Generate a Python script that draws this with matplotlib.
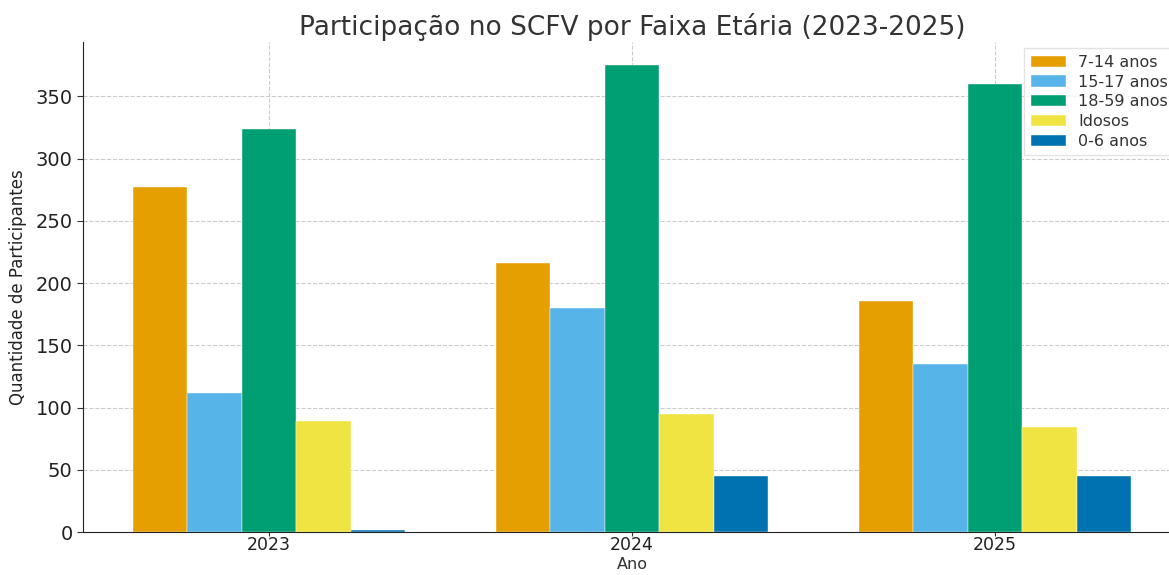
import numpy as np
import matplotlib
matplotlib.use("Agg")
import matplotlib.pyplot as plt

# data
anos = ["2023", "2024", "2025"]
faixas = ["7-14 anos", "15-17 anos", "18-59 anos", "Idosos", "0-6 anos"]
v_7_14 = [277, 216, 186]
v_15_17 = [112, 180, 135]
v_18_59 = [324, 375, 360]
v_idosos = [89, 95, 84]
v_0_6 = [2, 45, 45]
cores = ["#E69F00", "#56B4E9", "#009E73", "#F0E442", "#0072B2"]

series = [v_7_14, v_15_17, v_18_59, v_idosos, v_0_6]

plt.rcParams['font.family'] = ['DejaVu Sans']
text_col = "#333333"

fig = plt.figure(figsize=(11.69, 5.75), dpi=100)
# axes extends a little past the right edge of the canvas (as in the reference)
ax = fig.add_axes([83 / 1169, 43 / 575, 1098 / 1169, 490 / 575])

x = np.arange(len(anos))
largura = 0.15
for i, (vals, nome, cor) in enumerate(zip(series, faixas, cores)):
    ax.bar(x + (i - 2) * largura, vals, largura, label=nome, color=cor,
           edgecolor="white", linewidth=0.3, zorder=2)

ax.set_xticks(x)
ax.set_xticklabels(anos)
ax.set_title("Participação no SCFV por Faixa Etária (2023-2025)",
             fontsize=19, color=text_col, pad=5)
ax.set_xlabel("Ano", fontsize=11.5, color=text_col)
# keep the x label inside the canvas, just under the tick labels
ax.xaxis.set_label_coords(0.5, -25 / 490)
ax.set_ylabel("Quantidade de Participantes", fontsize=12, color="#222222", labelpad=6)
ax.tick_params(axis="y", labelsize=14, colors=text_col, length=4)
ax.tick_params(axis="x", labelsize=12.5, colors=text_col, length=3, pad=0)
ax.tick_params(axis="both", labelcolor="#222222")

ax.grid(True, linestyle="--", color="#cccccc", linewidth=0.8, zorder=0)
ax.set_axisbelow(True)
ax.spines["top"].set_visible(False)
ax.spines["right"].set_visible(False)
ax.spines["left"].set_color("#222222")
ax.spines["bottom"].set_color("#222222")

leg = ax.legend(loc="upper right", fontsize=11.5, frameon=True, fancybox=False,
                edgecolor="#dddddd", handlelength=2.2, labelspacing=0.3,
                borderaxespad=0.4)
for t in leg.get_texts():
    t.set_color(text_col)

fig.savefig("out.png", dpi=100)
